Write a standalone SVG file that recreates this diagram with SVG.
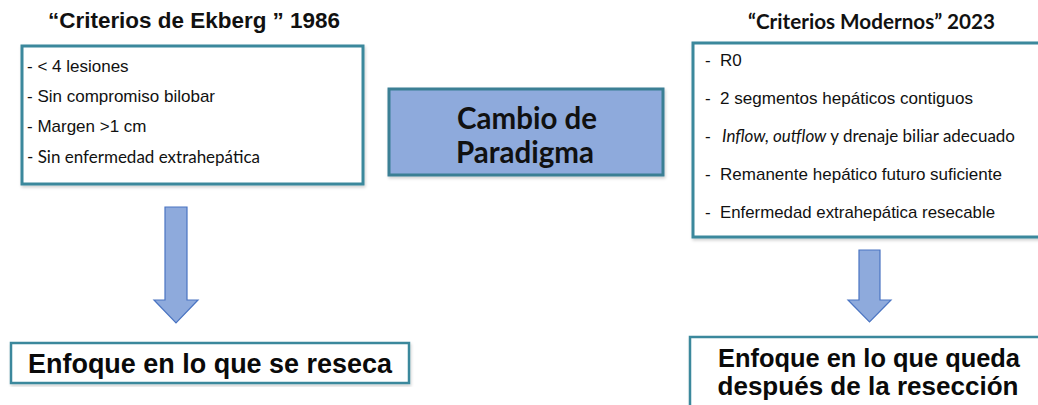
<svg xmlns="http://www.w3.org/2000/svg" width="1038" height="405" viewBox="0 0 1038 405">
  <defs>
    <filter id="sh" x="-5%" y="-5%" width="110%" height="115%">
      <feDropShadow dx="1" dy="2" stdDeviation="1.5" flood-color="#000" flood-opacity="0.18"/>
    </filter>
    <style>
      .box { fill: #ffffff; stroke: #3a889c; stroke-width: 3; filter: url(#sh); }
      .box2 { fill: #ffffff; stroke: #3a889c; stroke-width: 2.5; filter: url(#sh); }
      .para { fill: #8eaadc; stroke: #3a7f94; stroke-width: 3; filter: url(#sh); }
      .arrow { fill: #8eaadc; stroke: #4a74c2; stroke-width: 1.2; }
      .ar { font-family: "Liberation Sans", Arial, sans-serif; fill: #111; }
      .cal { font-family: Lato, "Open Sans", sans-serif; fill: #111; }
      .title { font-family: "Liberation Sans", Arial, sans-serif; font-weight: bold; font-size: 22px; fill: #111; }
      .item { font-size: 17px; }
      .big { font-family: "Liberation Sans", Arial, sans-serif; font-weight: bold; fill: #0a0a0a; }
    </style>
  </defs>
  <rect width="1038" height="405" fill="#ffffff"/>

  <g id="ekberg">
    <text class="title" x="194" y="28" text-anchor="middle" textLength="292" lengthAdjust="spacingAndGlyphs">“Criterios de Ekberg ” 1986</text>
    <rect class="box" x="22" y="46" width="341" height="138"/>
    <text class="ar item" x="27" y="72">- &lt; 4 lesiones</text>
    <text class="ar item" x="27" y="102">- Sin compromiso bilobar</text>
    <text class="ar item" x="27" y="132">- Margen &gt;1 cm</text>
    <text class="cal item" x="27" y="163" textLength="233" lengthAdjust="spacingAndGlyphs">- Sin enfermedad extrahepática</text>
  </g>

  <g id="modernos">
    <text class="cal" x="871.5" y="29" text-anchor="middle" font-weight="bold" font-size="20" textLength="247" lengthAdjust="spacingAndGlyphs">“Criterios Modernos” 2023</text>
    <rect class="box" x="693" y="43" width="360" height="194"/>
    <text class="ar item" x="705" y="66">-</text>
    <text class="ar item" x="720" y="66">R0</text>
    <text class="ar item" x="705" y="104">-</text>
    <text class="ar item" x="720" y="104" textLength="253" lengthAdjust="spacingAndGlyphs">2 segmentos hepáticos contiguos</text>
    <text class="ar item" x="705" y="142">-</text>
    <text class="cal item" x="722" y="142" textLength="293" lengthAdjust="spacingAndGlyphs"><tspan font-style="italic">Inflow, outflow</tspan> y drenaje biliar adecuado</text>
    <text class="ar item" x="705" y="180">-</text>
    <text class="ar item" x="720" y="180" textLength="282" lengthAdjust="spacingAndGlyphs">Remanente hepático futuro suficiente</text>
    <text class="ar item" x="705" y="218">-</text>
    <text class="ar item" x="720" y="218" textLength="275" lengthAdjust="spacingAndGlyphs">Enfermedad extrahepática resecable</text>
  </g>

  <g id="paradigma">
    <rect class="para" x="389" y="89" width="274" height="86"/>
    <text class="cal" x="527" y="129" text-anchor="middle" font-weight="bold" font-size="30" textLength="140" lengthAdjust="spacingAndGlyphs">Cambio de</text>
    <text class="cal" x="525" y="163" text-anchor="middle" font-weight="bold" font-size="30" textLength="138" lengthAdjust="spacingAndGlyphs">Paradigma</text>
  </g>

  <g id="reseca">
    <rect class="box2" x="11" y="343" width="398" height="40"/>
    <text class="big" x="210" y="373" text-anchor="middle" font-size="27" textLength="364" lengthAdjust="spacingAndGlyphs">Enfoque en lo que se reseca</text>
  </g>

  <g id="queda">
    <rect class="box2" x="690" y="337" width="360" height="100"/>
    <text class="big" x="869" y="367" text-anchor="middle" font-size="25.5" textLength="302" lengthAdjust="spacingAndGlyphs">Enfoque en lo que queda</text>
    <text class="big" x="868" y="395" text-anchor="middle" font-size="25.5" textLength="301" lengthAdjust="spacingAndGlyphs">después de la resección</text>
  </g>

  <g id="connectors">
    <path class="arrow" d="M165,207 H187 V300 H198 L176,323 L154,300 H165 Z"/>
    <path class="arrow" d="M859,250 H880 V300 H891 L869.5,322 L848,300 H859 Z"/>
  </g>
</svg>
